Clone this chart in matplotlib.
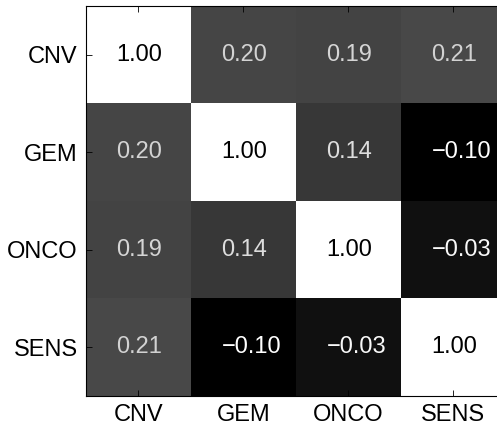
import numpy as np
import matplotlib
matplotlib.use("Agg")
import matplotlib.pyplot as plt

plt.rcParams['font.family'] = ['Liberation Sans', 'DejaVu Sans']

labels = ['CNV', 'GEM', 'ONCO', 'SENS']
corr = np.array([
    [1.00, 0.20, 0.19, 0.21],
    [0.20, 1.00, 0.14, -0.10],
    [0.19, 0.14, 1.00, -0.03],
    [0.21, -0.10, -0.03, 1.00],
])

fig = plt.figure(figsize=(4.97, 4.26), dpi=100)
# axes runs off the right edge on purpose, like the reference
ax = fig.add_axes([0.173, 0.0705, 0.845, 0.915])

vmin, vmax = corr.min(), corr.max()
ax.imshow(corr, cmap='gray', vmin=vmin, vmax=vmax, aspect='auto',
          interpolation='nearest')

for i in range(len(labels)):
    for j in range(len(labels)):
        v = corr[i, j]
        g = (v - vmin) / (vmax - vmin)
        if g > 0.5:
            col = 'black'
        else:
            c = min(1.0, 1.0 - 0.7 * g + 0.02)
            col = (c, c, c)
        txt = ('%.2f' % v).replace('-', '\u2212')
        ax.text(j - 0.21, i, txt, ha='left', va='center',
                fontsize=17, color=col)

ax.set_xticks(range(len(labels)))
ax.set_yticks(range(len(labels)))
ax.set_xticklabels(labels, fontsize=17)
ax.set_yticklabels(labels, fontsize=17)
ax.tick_params(direction='in', length=4, width=0.6, pad=6,
               top=True, right=True)
for s in ax.spines.values():
    s.set_linewidth(0.8)

fig.savefig('out.png', dpi=100)
